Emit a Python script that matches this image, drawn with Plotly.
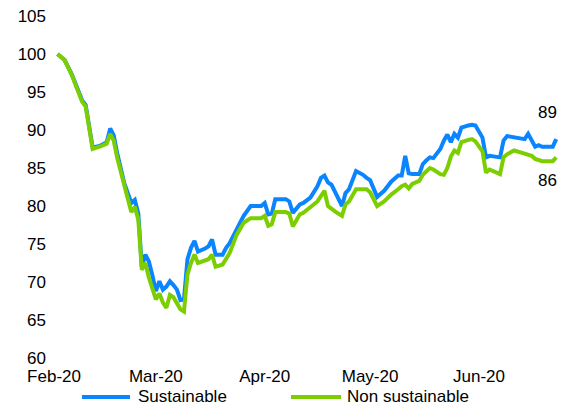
import plotly.graph_objects as go

# Index levels (start = 100), sampled at the turning points of each series
dates = [
    "2020-02-02", "2020-02-04", "2020-02-06", "2020-02-08", "2020-02-09", "2020-02-10",
    "2020-02-12", "2020-02-14", "2020-02-16", "2020-02-17", "2020-02-18", "2020-02-19",
    "2020-02-21", "2020-02-23", "2020-02-24", "2020-02-25", "2020-02-26", "2020-02-27",
    "2020-02-28", "2020-02-29", "2020-03-01", "2020-03-02", "2020-03-03", "2020-03-04",
    "2020-03-05", "2020-03-06", "2020-03-07", "2020-03-08", "2020-03-09", "2020-03-10",
    "2020-03-11", "2020-03-12", "2020-03-13", "2020-03-15", "2020-03-16", "2020-03-17",
    "2020-03-18", "2020-03-20", "2020-03-21", "2020-03-22", "2020-03-24", "2020-03-25",
    "2020-03-26", "2020-03-28", "2020-03-31", "2020-04-01", "2020-04-02", "2020-04-03",
    "2020-04-04", "2020-04-07", "2020-04-08", "2020-04-09", "2020-04-11", "2020-04-12",
    "2020-04-14", "2020-04-16", "2020-04-17", "2020-04-18", "2020-04-19", "2020-04-20",
    "2020-04-21", "2020-04-23", "2020-04-24", "2020-04-25", "2020-04-27", "2020-04-29",
    "2020-04-30", "2020-05-01", "2020-05-03", "2020-05-05", "2020-05-07", "2020-05-09",
    "2020-05-10", "2020-05-11", "2020-05-12", "2020-05-13", "2020-05-15", "2020-05-16",
    "2020-05-17", "2020-05-18", "2020-05-19", "2020-05-21", "2020-05-22", "2020-05-23",
    "2020-05-24", "2020-05-25", "2020-05-26", "2020-05-27", "2020-05-29", "2020-05-30",
    "2020-05-31", "2020-06-01", "2020-06-02", "2020-06-03", "2020-06-04", "2020-06-07",
    "2020-06-08", "2020-06-09", "2020-06-10", "2020-06-11", "2020-06-14", "2020-06-15",
    "2020-06-16", "2020-06-17", "2020-06-18", "2020-06-19", "2020-06-22", "2020-06-23",
]

sustainable = [
    100.0, 99.2, 97.4, 95.0, 93.9, 93.3,
    87.7, 87.9, 88.4, 90.2, 89.3, 86.9,
    83.0, 80.4, 80.8, 79.0, 72.0, 73.6,
    72.7, 70.9, 68.8, 70.1, 69.0, 69.4,
    70.1, 69.6, 69.0, 67.6, 67.7, 73.0,
    74.5, 75.4, 74.0, 74.4, 74.7, 75.6,
    73.6, 73.6, 74.5, 75.1, 76.8, 77.8,
    78.7, 80.0, 80.0, 80.4, 78.9, 79.0,
    80.9, 80.9, 80.6, 79.1, 80.2, 80.4,
    81.1, 82.6, 83.7, 84.0, 83.1, 82.8,
    81.8, 80.0, 81.7, 82.2, 84.6, 84.1,
    83.7, 83.4, 81.2, 82.0, 83.2, 84.0,
    84.0, 86.6, 84.3, 84.2, 84.2, 85.5,
    86.0, 86.4, 86.3, 87.5, 88.6, 89.4,
    88.4, 89.5, 89.0, 90.3, 90.6, 90.7,
    90.6, 89.8, 89.0, 86.4, 86.6, 86.4,
    88.6, 89.2, 89.1, 89.0, 88.8, 89.5,
    88.6, 87.8, 88.0, 87.8, 87.8, 88.8,
]

non_sustainable = [
    100.0, 99.2, 97.3, 94.8, 93.7, 93.1,
    87.5, 87.8, 88.2, 89.5, 88.6, 86.3,
    82.6, 79.2, 79.9, 78.2, 71.6, 72.5,
    70.6, 69.0, 67.7, 68.5, 67.3, 66.6,
    68.3, 68.0, 67.3, 66.4, 66.1, 71.0,
    72.5, 73.6, 72.5, 72.8, 73.0, 73.6,
    72.0, 72.3, 73.1, 73.8, 76.2, 77.0,
    77.8, 78.4, 78.4, 78.7, 77.4, 77.6,
    79.2, 79.2, 79.0, 77.3, 78.9, 79.1,
    79.8, 80.6, 81.3, 82.0, 80.0, 79.6,
    79.3, 78.7, 80.2, 80.6, 82.2, 82.2,
    82.2, 81.8, 80.0, 80.6, 81.5, 82.2,
    82.6, 82.8, 82.3, 82.9, 83.3, 84.1,
    84.6, 85.0, 84.8, 84.2, 84.1, 85.0,
    86.5, 87.3, 87.0, 88.4, 88.7, 88.8,
    88.5, 87.8, 87.2, 84.4, 84.8, 84.2,
    86.4, 86.8, 87.0, 87.3, 86.9, 86.8,
    86.6, 86.2, 86.1, 85.9, 85.9, 86.4,
]

series_names = ["Sustainable", "Non sustainable"]
y_ticks = [60, 65, 70, 75, 80, 85, 90, 95, 100, 105]
month_ticks = ["2020-02-01", "2020-03-01", "2020-04-01", "2020-05-01", "2020-06-01"]

BLUE = "#0A84FF"
GREEN = "#7CCE00"
FONT = "Arial, Liberation Sans, sans-serif"

fig = go.Figure()
fig.add_trace(go.Scatter(x=dates, y=sustainable, mode="lines", name=series_names[0],
                         line=dict(color=BLUE, width=4), showlegend=False))
fig.add_trace(go.Scatter(x=dates, y=non_sustainable, mode="lines", name=series_names[1],
                         line=dict(color=GREEN, width=4), showlegend=False))

# Latest values written next to the line ends
fig.add_annotation(x=dates[-1], y=sustainable[-1], text=f"{round(sustainable[-1])}",
                   showarrow=False, xanchor="center", yanchor="middle",
                   xshift=-9, yshift=27, font=dict(family=FONT, size=17, color="#000"))
fig.add_annotation(x=dates[-1], y=non_sustainable[-1], text=f"{round(non_sustainable[-1])}",
                   showarrow=False, xanchor="center", yanchor="middle",
                   xshift=-9, yshift=-23, font=dict(family=FONT, size=17, color="#000"))

# Legend row under the axis
legend_items = [(series_names[0], BLUE, 0.068, 0.1615, 0.173),
                (series_names[1], GREEN, 0.4747, 0.572, 0.580)]
for label, color, x0, x1, xt in legend_items:
    fig.add_shape(type="line", xref="paper", yref="paper", x0=x0, x1=x1, y0=-0.114, y1=-0.114,
                  line=dict(color=color, width=4))
    fig.add_annotation(xref="paper", yref="paper", x=xt, y=-0.114, text=label, showarrow=False,
                       xanchor="left", yanchor="middle",
                       font=dict(family=FONT, size=17, color="#000"))

fig.update_xaxes(type="date", range=["2020-01-30", "2020-06-24 08:38"],
                 tickvals=month_ticks, tickformat="%b-%y", ticklabelstandoff=6,
                 showgrid=False, zeroline=False, showline=False, ticks="",
                 tickfont=dict(family=FONT, size=17, color="#000"))
fig.update_yaxes(range=[60, 105], tickvals=y_ticks,
                 showgrid=False, zeroline=False, showline=False, ticks="",
                 tickfont=dict(family=FONT, size=17, color="#000"))

fig.update_layout(width=561, height=408, margin=dict(l=47, r=0, t=16, b=50),
                  plot_bgcolor="white", paper_bgcolor="white", showlegend=False)

fig.write_html("out.html")
